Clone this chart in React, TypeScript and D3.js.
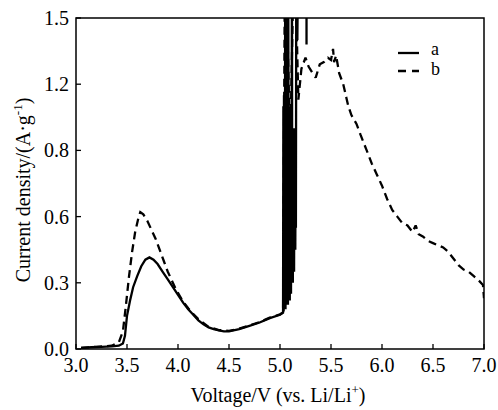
import React from "react";
import * as d3 from "d3";

// Series a (solid)
const aVoltage = [3.05, 3.15, 3.25, 3.35, 3.42, 3.46, 3.48, 3.5, 3.53, 3.56, 3.6, 3.64, 3.68, 3.72, 3.76, 3.8, 3.85, 3.9, 3.95, 4.0, 4.05, 4.1, 4.15, 4.2, 4.25, 4.3, 4.35, 4.4, 4.45, 4.5, 4.6, 4.7, 4.8, 4.9, 5.0, 5.03,
  5.033, 5.036, 5.039, 5.042, 5.045, 5.048, 5.051, 5.054, 5.057, 5.06, 5.063, 5.066, 5.069, 5.072, 5.075, 5.078, 5.081, 5.084, 5.087, 5.09, 5.093, 5.096, 5.099, 5.102, 5.105, 5.108, 5.111, 5.114, 5.117, 5.12, 5.123, 5.126, 5.129, 5.132, 5.135, 5.138, 5.141, 5.144, 5.147, 5.15, 5.153, 5.156, 5.16, 5.17, 5.18, 5.22, 5.26, 5.26];
const aCurrent = [0.005, 0.008, 0.01, 0.012, 0.015, 0.025, 0.06, 0.15, 0.22, 0.28, 0.33, 0.375, 0.405, 0.415, 0.405, 0.385, 0.35, 0.315, 0.28, 0.245, 0.21, 0.18, 0.155, 0.13, 0.112, 0.098, 0.09, 0.084, 0.08, 0.08, 0.09, 0.105, 0.12, 0.14, 0.155, 0.165,
  1.1, 0.17, 1.15, 0.18, 1.05, 0.2, 1.9, 0.18, 1.1, 0.2, 1.0, 0.22, 1.9, 0.25, 1.05, 0.2, 1.9, 0.25, 1.0, 0.3, 1.1, 0.22, 0.95, 0.3, 1.0, 0.25, 1.05, 0.3, 1.9, 0.35, 1.0, 0.3, 0.95, 0.4, 1.0, 0.35, 0.95, 0.45, 1.0, 0.45, 0.9, 0.55, 1.9, 1.4, 1.9, 1.95, 1.95, 1.38];

// Series b (dashed)
const bVoltage = [3.05, 3.2, 3.35, 3.42, 3.46, 3.49, 3.52, 3.55, 3.58, 3.61, 3.63, 3.66, 3.7, 3.74, 3.78, 3.82, 3.86, 3.9, 3.94, 3.98, 4.05, 4.1, 4.15, 4.2, 4.3, 4.4, 4.5, 4.6, 4.7, 4.8, 4.9, 5.0, 5.03,
  5.05, 5.1, 5.14, 5.18, 5.21, 5.25, 5.28, 5.32, 5.35, 5.39, 5.43, 5.47, 5.5, 5.52, 5.53, 5.55, 5.58, 5.62, 5.65, 5.67, 5.7, 5.75, 5.79, 5.85, 5.9, 5.95, 6.0, 6.05, 6.1, 6.15, 6.2, 6.25, 6.3, 6.33, 6.36, 6.4, 6.45, 6.5, 6.55, 6.6, 6.65, 6.7, 6.75, 6.8, 6.85, 6.9, 6.95, 6.99, 7.0];
const bCurrent = [0.005, 0.01, 0.015, 0.03, 0.08, 0.2, 0.33, 0.44, 0.53, 0.59, 0.62, 0.61, 0.58, 0.54, 0.5, 0.45, 0.4, 0.35, 0.31, 0.27, 0.215, 0.185, 0.158, 0.135, 0.1, 0.086, 0.082, 0.092, 0.107, 0.122, 0.142, 0.157, 0.165,
  1.9, 0.9, 1.9, 1.13, 1.27, 1.32, 1.28, 1.25, 1.23, 1.29, 1.3, 1.32, 1.31, 1.36, 1.3, 1.33, 1.25, 1.2, 1.14, 1.1, 1.06, 1.02, 0.97, 0.9, 0.84, 0.79, 0.74, 0.68, 0.63, 0.6, 0.57, 0.56, 0.53, 0.56, 0.52, 0.51, 0.49, 0.48, 0.47, 0.46, 0.44, 0.41, 0.38, 0.36, 0.35, 0.33, 0.31, 0.29, 0.23];

const xTicks = [3.0, 3.5, 4.0, 4.5, 5.0, 5.5, 6.0, 6.5, 7.0];
const xTickLabels = ["3.0", "3.5", "4.0", "4.5", "5.0", "5.5", "6.0", "6.5", "7.0"];
const yTicks = [0.0, 0.3, 0.6, 0.9, 1.2, 1.5];
const yTickLabels = ["0.0", "0.3", "0.6", "0.8", "1.2", "1.5"];
const legendLabels = ["a", "b"];

const W = 498, H = 410;
const L = 76, R = 484, T = 18, B = 349;
const FONT = '"Liberation Serif"';

export default function App() {
  const x = d3.scaleLinear().domain([3, 7]).range([L, R]);
  const y = d3.scaleLinear().domain([0, 1.5]).range([B, T]);
  const line = d3.line<[number, number]>().x(d => x(d[0])).y(d => y(d[1]));
  const aPts = aVoltage.map((v, i) => [v, aCurrent[i]] as [number, number]);
  const bPts = bVoltage.map((v, i) => [v, bCurrent[i]] as [number, number]);
  const tick = 5;
  const ts = { fontFamily: FONT, fontSize: 20 } as React.CSSProperties;
  const ls = { fontFamily: FONT, fontSize: 18 } as React.CSSProperties;
  return (
    <svg width={W} height={H} style={{ position: "absolute", left: 0, top: 0, background: "#fff" }}>
      <defs>
        <clipPath id="plot">
          <rect x={L} y={T} width={R - L} height={B - T} />
        </clipPath>
      </defs>
      <g clipPath="url(#plot)" fill="none" stroke="#000" strokeLinejoin="miter" strokeMiterlimit={2}>
        <path d={line(bPts) || ""} strokeWidth={2.3} strokeDasharray="8,5" />
        <path d={line(aPts) || ""} strokeWidth={2.3} />
      </g>
      <rect x={L} y={T} width={R - L} height={B - T} fill="none" stroke="#000" strokeWidth={1.5} />
      {xTicks.map((t, i) => (
        <g key={"x" + i}>
          <line x1={x(t)} x2={x(t)} y1={B} y2={B - tick} stroke="#000" strokeWidth={1.3} />
          <text x={x(t)} y={372} style={ts} textAnchor="middle">{xTickLabels[i]}</text>
        </g>
      ))}
      {yTicks.map((t, i) => (
        <g key={"y" + i}>
          <line x1={L} x2={L + tick} y1={y(t)} y2={y(t)} stroke="#000" strokeWidth={1.3} />
          <text x={69} y={y(t) + 7} style={ts} textAnchor="end">{yTickLabels[i]}</text>
        </g>
      ))}
      <text x={278} y={402} style={ts} textAnchor="middle">
        Voltage/V (vs. Li/Li<tspan dy={-8} style={{ fontSize: 13 }}>+</tspan><tspan dy={8}>)</tspan>
      </text>
      <text transform="translate(30,190) rotate(-90)" style={ts} textAnchor="middle">
        Current density/(A·g<tspan dy={-8} style={{ fontSize: 13 }}>-1</tspan><tspan dy={8}>)</tspan>
      </text>
      <line x1={398} x2={419} y1={53} y2={53} stroke="#000" strokeWidth={2.3} />
      <line x1={398} x2={419} y1={71} y2={71} stroke="#000" strokeWidth={2.3} strokeDasharray="8,6" />
      <text x={431} y={55} style={ls}>{legendLabels[0]}</text>
      <text x={431} y={75} style={ls}>{legendLabels[1]}</text>
    </svg>
  );
}
